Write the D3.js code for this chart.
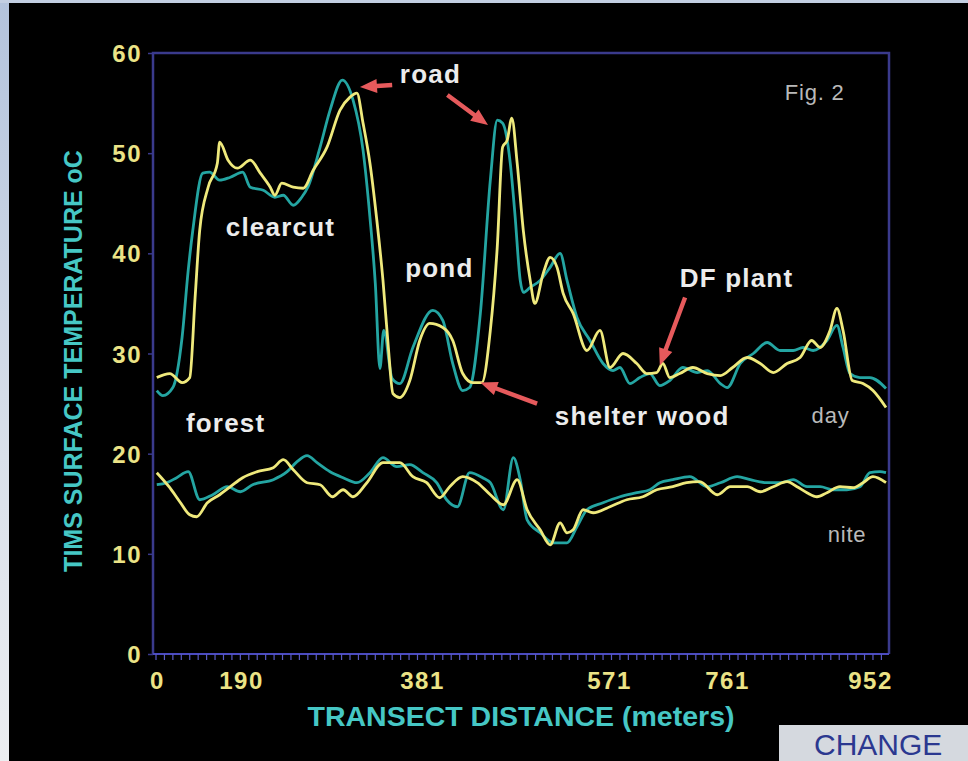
<!DOCTYPE html>
<html>
<head>
<meta charset="utf-8">
<script src="https://cdnjs.cloudflare.com/ajax/libs/d3/7.8.5/d3.min.js"></script>
<style>
  html, body { margin: 0; padding: 0; background: #000; overflow: hidden; }
  svg { display: block; }
</style>
</head>
<body>
<div id="chart"></div>
<script>
// ---- data (distance in meters, temperature in oC) ----
const xTicks = [0, 190, 381, 571, 761, 952]
const yTicks = [0, 10, 20, 30, 40, 50, 60]

const dayTeal = [[1,26.3],[9,25.8],[22,26.6],[34,31.6],[42,38.3],[48,42.3],[61,48.0],[70,48.1],[83,47.3],[97,47.6],
  [113,48.1],[123,46.6],[140,46.3],[155,45.6],[166,45.8],[179,44.8],[190,45.6],[198,46.6],[214,50.6],[227,54.3],
  [243,57.3],[257,55.3],[270,50.3],[279,43.6],[286,37.0],[292,28.5],[297,32.3],[308,27.5],[318,27.0],[335,30.6],
  [361,34.3],[374,33.3],[387,29.0],[400,26.3],[409,26.6],[423,34.0],[436,47.3],[445,53.3],[452,53.0],[462,49.0],
  [468,44.0],[475,37.3],[479,36.1],[488,36.6],[501,37.3],[514,38.6],[527,40.0],[536,37.3],[549,33.6],[566,31.3],
  [583,29.0],[596,28.3],[605,28.6],[618,27.0],[631,27.6],[644,28.0],[657,26.8],[670,27.3],[687,28.6],[706,28.1],
  [719,28.3],[736,27.0],[745,26.6],[762,29.0],[779,30.0],[797,31.1],[814,30.3],[831,30.3],[844,30.6],[857,30.3],
  [875,31.3],[888,32.8],[896,30.6],[905,28.0],[918,27.6],[931,27.6],[952,26.5]]

const dayYellow = [[1,27.6],[18,28.0],[34,27.1],[44,27.6],[51,35.6],[57,42.3],[68,46.6],[80,49.0],[83,51.1],[94,49.3],
  [106,48.5],[123,49.3],[136,48.0],[149,46.6],[155,45.8],[164,47.0],[179,46.6],[192,46.5],[205,48.3],[223,50.6],
  [240,54.3],[253,55.6],[262,56.0],[270,53.0],[279,49.0],[288,43.3],[296,37.3],[303,30.6],[309,26.0],[318,25.6],
  [331,27.3],[344,31.3],[357,33.0],[374,32.6],[387,31.3],[400,28.0],[413,27.1],[425,27.1],[436,32.3],[445,40.6],
  [452,50.6],[458,51.3],[464,53.5],[471,49.0],[479,42.3],[488,37.3],[494,35.0],[505,38.0],[514,39.6],[523,38.6],
  [531,36.0],[544,34.0],[562,30.3],[579,32.3],[592,28.6],[609,30.0],[627,29.0],[640,28.0],[653,28.1],[661,29.0],
  [670,27.6],[683,28.0],[700,28.6],[719,28.0],[736,27.8],[752,28.6],[771,29.6],[788,29.0],[805,28.1],[823,29.0],
  [840,29.6],[855,31.3],[866,30.6],[879,32.3],[888,34.5],[896,32.3],[908,27.3],[922,27.0],[935,26.3],[952,24.6]]

const niteTeal = [[1,16.9],[14,17.1],[27,17.6],[42,18.2],[57,15.4],[74,15.9],[93,16.7],[110,16.2],[126,16.9],[153,17.4],
  [171,18.2],[184,19.2],[197,19.8],[210,19.1],[227,18.2],[244,17.6],[262,17.1],[279,18.1],[296,19.6],[314,18.7],
  [331,18.9],[348,18.1],[366,17.1],[379,15.4],[393,14.7],[409,18.1],[426,17.6],[436,17.1],[453,14.4],[466,19.6],
  [475,17.4],[484,13.4],[501,12.1],[518,11.1],[536,11.1],[549,12.7],[562,14.4],[583,15.1],[605,15.7],[627,16.1],
  [644,16.4],[657,17.1],[674,17.4],[696,17.7],[719,16.7],[736,17.1],[758,17.7],[775,17.4],[797,17.1],[814,17.1],
  [831,17.4],[849,16.7],[866,16.7],[883,16.4],[901,16.4],[918,16.7],[931,18.1],[944,18.2],[952,18.1]]

const niteYellow = [[1,18.1],[18,16.6],[31,15.2],[44,13.9],[53,13.7],[67,15.1],[83,15.9],[97,16.7],[113,17.6],[132,18.2],
  [153,18.6],[166,19.4],[179,18.4],[197,17.1],[214,16.9],[230,15.7],[244,16.4],[257,15.7],[275,17.1],[296,19.1],
  [318,19.1],[335,17.7],[353,17.1],[370,15.6],[383,16.7],[400,17.7],[419,17.1],[436,15.9],[453,14.9],[471,17.4],
  [484,14.4],[501,12.4],[514,10.9],[527,13.1],[536,12.1],[544,12.4],[557,14.4],[570,14.1],[592,14.7],[614,15.4],
  [635,15.7],[653,16.4],[674,16.7],[692,17.1],[709,17.2],[732,15.9],[749,16.7],[771,16.7],[788,16.2],[805,16.7],
  [823,17.2],[836,16.7],[849,16.1],[862,15.7],[875,16.1],[892,16.7],[909,16.6],[922,17.1],[935,17.7],[952,17.1]]

// text labels and arrows, anchored in data units
const labels = [
  {text: 'road', d: 318, t: 57.0, kind: 'note'},
  {text: 'clearcut', d: 91, t: 41.7, kind: 'note'},
  {text: 'pond', d: 325, t: 37.6, kind: 'note'},
  {text: 'DF plant', d: 683, t: 36.6, kind: 'note'},
  {text: 'forest', d: 39, t: 22.2, kind: 'note'},
  {text: 'shelter wood', d: 520, t: 22.9, kind: 'note'},
  {text: 'day', d: 855, t: 23.1, kind: 'tag'},
  {text: 'nite', d: 876, t: 11.2, kind: 'tag'},
  {text: 'Fig. 2', d: 820, t: 55.3, kind: 'tag'}
]
const arrows = [
  {from: [308, 56.8], to: [266, 56.6]},
  {from: [380, 55.8], to: [433, 52.8]},
  {from: [497, 25.0], to: [423, 27.1]},
  {from: [690, 35.6], to: [657, 28.8]}
]

// ---- layout ----
const width = 968
const height = 761
const frame = {left: 153, right: 889, top: 53, bottom: 654}
const FONT = '"Liberation Sans", Arial, Helvetica, sans-serif'
const TEAL = '#24a5a2'
const YELLOW = '#efe97c'
const LABEL_YELLOW = '#ebe386'
const CYAN = '#46c7c5'
const FRAME = '#3a3a8c'

const x = d3.scaleLinear().domain([0, 952]).range([156, 886])
const y = d3.scaleLinear().domain([0, 60]).range([frame.bottom, frame.top])
// the printed distance labels are not evenly spaced in the source figure
const xLabel = d3.scaleLinear().domain(xTicks).range([157, 241, 422, 609, 727, 870])

const svg = d3.select('#chart').append('svg')
  .attr('width', width).attr('height', height)

const defs = svg.append('defs')
const grad = defs.append('linearGradient').attr('id', 'edge').attr('x1', 0).attr('x2', 0).attr('y1', 0).attr('y2', 1)
grad.append('stop').attr('offset', '0%').attr('stop-color', '#b3c3dc')
grad.append('stop').attr('offset', '60%').attr('stop-color', '#d9e0ea')
grad.append('stop').attr('offset', '100%').attr('stop-color', '#eceef1')

// slide background
svg.append('rect').attr('width', width).attr('height', height).attr('fill', '#000')
svg.append('rect').attr('width', 9).attr('height', height).attr('fill', 'url(#edge)')
svg.append('rect').attr('width', width).attr('height', 3).attr('fill', '#c3cfe2')

// frame
svg.append('path')
  .attr('d', `M${frame.left},${frame.bottom} V${frame.top} H${frame.right} V${frame.bottom}`)
  .attr('fill', 'none').attr('stroke', FRAME).attr('stroke-width', 2.5)

// y axis
const yAxis = svg.append('g')
  .attr('transform', `translate(${frame.left},0)`)
  .call(d3.axisLeft(y).tickValues(yTicks).tickSize(5).tickPadding(6))
yAxis.select('.domain').remove()
yAxis.selectAll('line').attr('stroke', FRAME).attr('stroke-width', 1.5)
yAxis.selectAll('text')
  .attr('fill', LABEL_YELLOW).attr('font-family', FONT).attr('font-weight', 'bold')
  .attr('font-size', 24).attr('letter-spacing', '1.5px').attr('dy', '0.36em')

// x axis: base line with small ticks
svg.append('line')
  .attr('x1', frame.left).attr('x2', frame.right)
  .attr('y1', frame.bottom).attr('y2', frame.bottom)
  .attr('stroke', '#4b4bc0').attr('stroke-width', 2)
svg.append('g').selectAll('line')
  .data(d3.range(0, 953, 11))
  .join('line')
  .attr('x1', d => x(d)).attr('x2', d => x(d))
  .attr('y1', frame.bottom).attr('y2', frame.bottom + 6)
  .attr('stroke', '#5a5ac4').attr('stroke-width', 1.2)

const xAxis = svg.append('g')
  .attr('transform', `translate(0,${frame.bottom})`)
  .call(d3.axisBottom(xLabel).tickValues(xTicks).tickSize(0).tickPadding(18))
xAxis.select('.domain').remove()
xAxis.selectAll('text')
  .attr('fill', LABEL_YELLOW).attr('font-family', FONT).attr('font-weight', 'bold')
  .attr('font-size', 24).attr('letter-spacing', '1.5px')

// axis titles
svg.append('text')
  .attr('transform', `translate(82,361) rotate(-90)`)
  .attr('text-anchor', 'middle')
  .attr('fill', CYAN).attr('font-family', FONT).attr('font-weight', 'bold').attr('font-size', 25)
  .text('TIMS SURFACE TEMPERATURE oC')

svg.append('text')
  .attr('x', 521).attr('y', 726)
  .attr('text-anchor', 'middle')
  .attr('fill', CYAN).attr('font-family', FONT).attr('font-weight', 'bold').attr('font-size', 28.5)
  .text('TRANSECT DISTANCE (meters)')

// lines
const line = d3.line()
  .x(d => x(d[0]))
  .y(d => y(d[1]))
  .curve(d3.curveMonotoneX)

const series = [
  {data: dayTeal, color: TEAL},
  {data: niteTeal, color: TEAL},
  {data: dayYellow, color: YELLOW},
  {data: niteYellow, color: YELLOW}
]
svg.append('g').selectAll('path')
  .data(series)
  .join('path')
  .attr('d', d => line(d.data))
  .attr('fill', 'none')
  .attr('stroke', d => d.color)
  .attr('stroke-width', 2.8)
  .attr('stroke-linejoin', 'round')

// arrows
function arrowPath(a) {
  const x1 = x(a.from[0]), y1 = y(a.from[1])
  const x2 = x(a.to[0]), y2 = y(a.to[1])
  const len = Math.hypot(x2 - x1, y2 - y1)
  const ux = (x2 - x1) / len, uy = (y2 - y1) / len
  const nx = -uy, ny = ux
  const sw = 2.2, hw = 7, hl = 17
  const bx = x2 - ux * hl, by = y2 - uy * hl
  const p = [
    [x1 + nx * sw, y1 + ny * sw],
    [bx + nx * sw, by + ny * sw],
    [bx + nx * hw, by + ny * hw],
    [x2, y2],
    [bx - nx * hw, by - ny * hw],
    [bx - nx * sw, by - ny * sw],
    [x1 - nx * sw, y1 - ny * sw]
  ]
  return 'M' + p.map(q => q.join(',')).join('L') + 'Z'
}
svg.append('g').selectAll('path')
  .data(arrows)
  .join('path')
  .attr('d', arrowPath)
  .attr('fill', '#e65a5c')

// labels
svg.append('g').selectAll('text')
  .data(labels)
  .join('text')
  .attr('x', d => x(d.d))
  .attr('y', d => y(d.t))
  .attr('font-family', FONT)
  .attr('font-weight', d => d.kind === 'note' ? 'bold' : 'normal')
  .attr('font-size', d => d.kind === 'note' ? 26 : 22)
  .attr('letter-spacing', d => d.kind === 'note' ? '1.2px' : '0.8px')
  .attr('fill', d => d.kind === 'note' ? '#ececec' : '#b9b9b9')
  .text(d => d.text)

// corner button from the slide
svg.append('rect')
  .attr('x', 779).attr('y', 725).attr('width', width - 779).attr('height', height - 725)
  .attr('fill', '#d5d9df')
svg.append('text')
  .attr('x', 814).attr('y', 755)
  .attr('fill', '#2b3890').attr('font-family', FONT).attr('font-size', 30)
  .text('CHANGE')
</script>
</body>
</html>
